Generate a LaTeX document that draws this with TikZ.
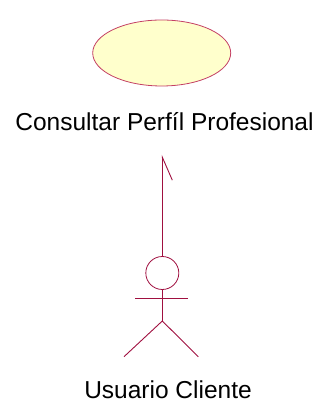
\documentclass[tikz,border=0pt]{standalone}
\usepackage{fontspec}
\setmainfont{Liberation Sans}
\usetikzlibrary{arrows.meta,shapes.geometric}
\definecolor{umlline}{RGB}{160,16,64}
\definecolor{umlfill}{RGB}{255,255,204}
\definecolor{umlborder}{RGB}{196,64,100}
\tikzset{
  actorline/.style={draw=umlline, line width=0.9pt},
  lbl/.style={font=\fontsize{24.5}{29}\selectfont, text=black, inner sep=0pt, anchor=base},
  usecase/.style={ellipse, draw=umlborder, fill=umlfill, line width=0.8pt, minimum width=138pt, minimum height=66pt, inner sep=0pt}
}
\begin{document}
\begin{tikzpicture}[x=1pt,y=1pt]
\useasboundingbox (0,0) rectangle (326,403);
% use case
\node[usecase] (uc) at (161.7,350) {};
\node[lbl] (uclabel) at (164.5,272.3) {Consultar Perfíl Profesional};
% actor
\node[circle, draw=umlline, line width=0.8pt, minimum size=33pt, inner sep=0pt] (head) at (162.3,130) {};
\coordinate (hip) at (162.3,82);
\coordinate (larm) at (135,105);
\coordinate (rarm) at (188.3,105);
\coordinate (lfoot) at (124,46.3);
\coordinate (rfoot) at (198.3,46.3);
\draw[actorline] (head.south) -- (hip);
\draw[actorline] (larm) -- (rarm);
\draw[actorline] (lfoot) -- (hip) -- (rfoot);
\node[lbl] (actorlabel) at (168,4.5) {Usuario Cliente};
% association
\coordinate (tip) at (162.3,248);
\draw[actorline, -{Straight Barb[right,length=23pt,width=20pt]}] (head.north) -- (tip);
\end{tikzpicture}
\end{document}
